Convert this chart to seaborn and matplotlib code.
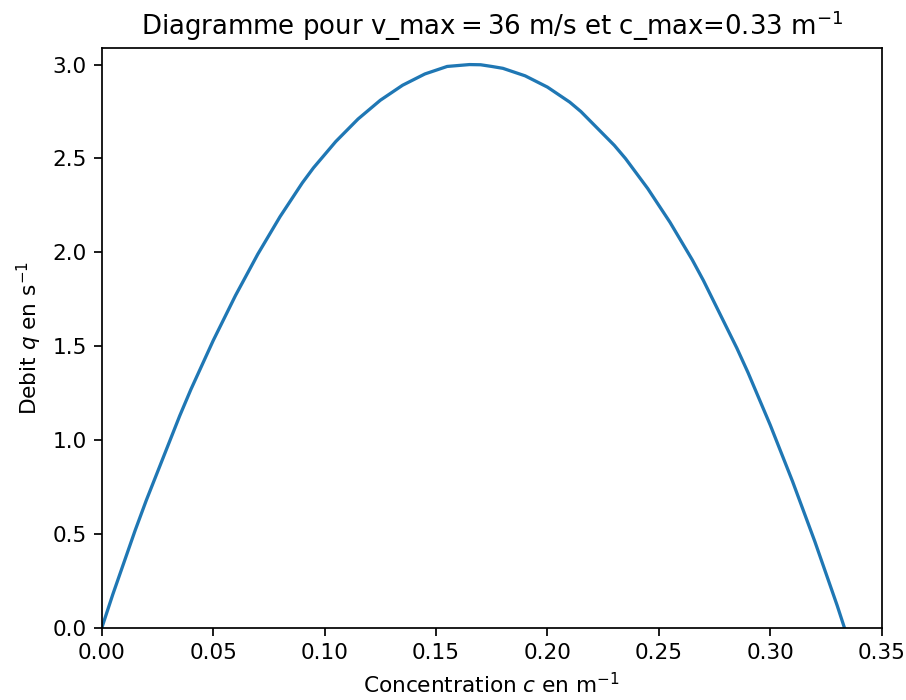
import matplotlib
matplotlib.use("Agg")
import matplotlib.pyplot as plt
import seaborn as sns
import pandas as pd

# Values
concentration = [0.000, 0.005, 0.010, 0.015, 0.020, 0.025, 0.030, 0.035, 0.040, 0.045,
                 0.050, 0.055, 0.060, 0.065, 0.070, 0.075, 0.080, 0.085, 0.090, 0.095,
                 0.100, 0.105, 0.110, 0.115, 0.120, 0.125, 0.130, 0.135, 0.140, 0.145,
                 0.150, 0.155, 0.160, 0.165, 0.170, 0.175, 0.180, 0.185, 0.190, 0.195,
                 0.200, 0.205, 0.210, 0.215, 0.220, 0.225, 0.230, 0.235, 0.240, 0.245,
                 0.250, 0.255, 0.260, 0.265, 0.270, 0.275, 0.280, 0.285, 0.290, 0.295,
                 0.300, 0.305, 0.310, 0.315, 0.320, 0.325, 0.330, 0.3333]
debit = [0.00, 0.18, 0.35, 0.52, 0.68, 0.83, 0.98, 1.13, 1.27, 1.40,
         1.53, 1.65, 1.77, 1.88, 1.99, 2.09, 2.19, 2.28, 2.37, 2.45,
         2.52, 2.59, 2.65, 2.71, 2.76, 2.81, 2.85, 2.89, 2.92, 2.95,
         2.97, 2.99, 2.995, 3.00, 2.999, 2.99, 2.98, 2.96, 2.94, 2.91,
         2.88, 2.84, 2.80, 2.75, 2.69, 2.63, 2.57, 2.50, 2.42, 2.34,
         2.25, 2.16, 2.06, 1.96, 1.85, 1.73, 1.61, 1.49, 1.36, 1.22,
         1.08, 0.93, 0.78, 0.62, 0.46, 0.29, 0.12, 0.00]

df = pd.DataFrame({"c": concentration, "q": debit})

dpi = 156
fig = plt.figure(figsize=(906 / dpi, 700 / dpi), dpi=dpi)
ax = fig.add_axes([0.1123, 0.1029, 0.9732 - 0.1123, 0.9319 - 0.1029])

sns.lineplot(data=df, x="c", y="q", ax=ax, color="#1f77b4", linewidth=1.5)

ax.set_xlim(0, 0.35)
ax.set_ylim(0, 3.09)
ax.set_xlabel("Concentration $c$ en m$^{-1}$")
ax.set_ylabel("Debit $q$ en s$^{-1}$")
ax.set_title("Diagramme pour v_max$=$36 m/s et c_max=0.33 m$^{-1}$")

fig.savefig("out.png", dpi=dpi)
